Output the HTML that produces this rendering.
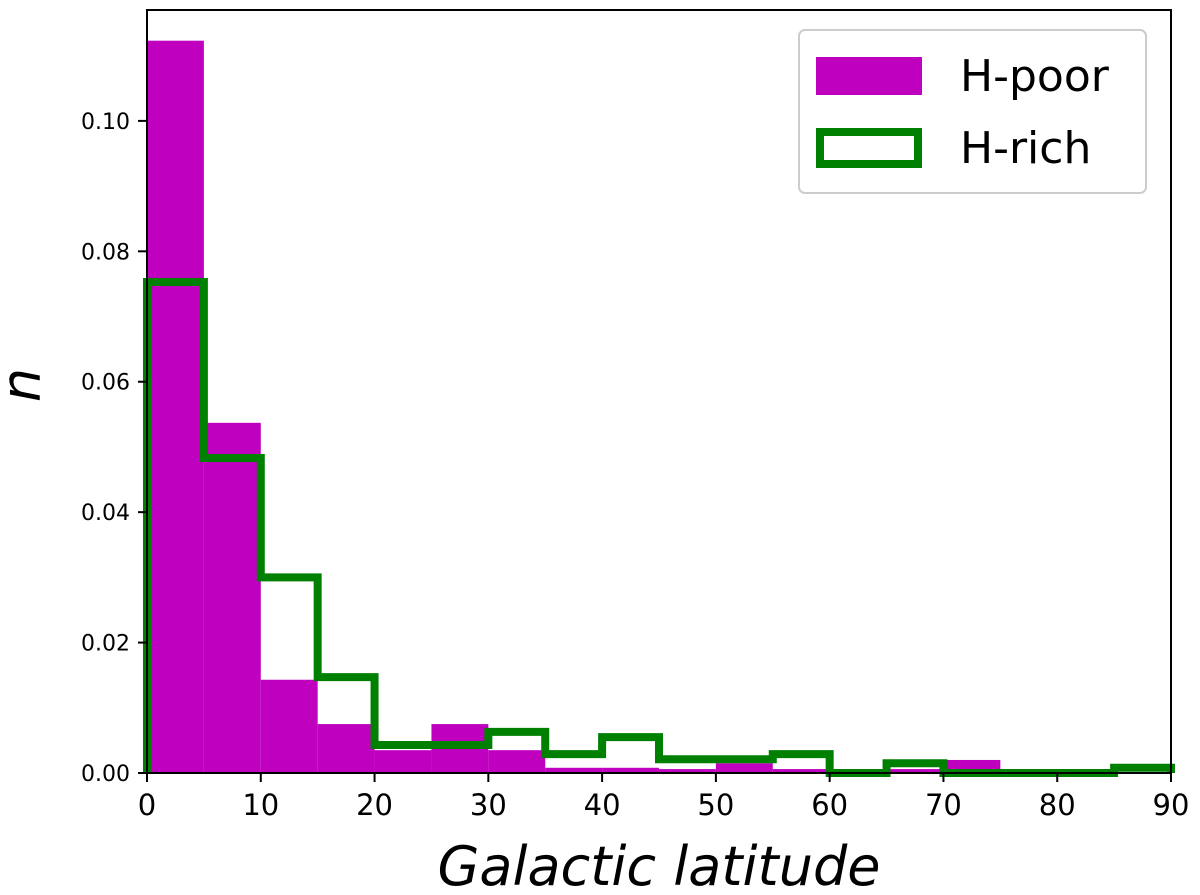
<!DOCTYPE html>
<html><head><meta charset="utf-8"><style>body{margin:0;background:#fff}svg{display:block;font-family:"DejaVu Sans","Liberation Sans",sans-serif}</style></head>
<body>
<svg id="chart" width="1200" height="895">
<g id="bars"></g>
<path id="richline" fill="none" stroke="#008000" stroke-width="8" stroke-linejoin="miter"></path>
<rect x="147" y="10" width="1024" height="763" fill="none" stroke="#000" stroke-width="2"/>
<g id="xticks"></g>
<g id="yticks"></g>
<text x="659" y="885" font-size="54" font-style="italic" text-anchor="middle">Galactic latitude</text>
<text transform="translate(40,385) rotate(-90)" font-size="54" font-style="italic" text-anchor="middle">n</text>
<g>
<rect x="799" y="30" width="347" height="163" rx="6" fill="#fff" stroke="#ccc" stroke-width="2"/>
<rect x="816" y="57" width="106" height="38" fill="#bf00bf"/>
<text x="960" y="91" font-size="44">H-poor</text>
<rect x="820" y="132" width="98" height="32" fill="none" stroke="#008000" stroke-width="8"/>
<text x="960" y="163" font-size="44">H-rich</text>
</g>
</svg>
<script>
const binEdges=[0,5,10,15,20,25,30,35,40,45,50,55,60,65,70,75,80,85,90];
const hPoor=[0.1123,0.0537,0.0143,0.0075,0.0035,0.0075,0.0035,0.0008,0.0008,0.0006,0.0015,0.0006,0,0.0006,0.002,0,0,0];
const hRich=[0.0753,0.0483,0.030,0.0147,0.0043,0.0043,0.0063,0.0029,0.0055,0.0021,0.0021,0.0029,0,0.0015,0,0,0,0.0008];
const xTicks=[0,10,20,30,40,50,60,70,80,90];
const yTicks=[0,0.02,0.04,0.06,0.08,0.10];
const NS="http://www.w3.org/2000/svg";
const X=v=>147+v*(1024/90);
const Y=v=>773-v*6521;
const bars=document.getElementById('bars');
hPoor.forEach((v,i)=>{
 const r=document.createElementNS(NS,'rect');
 
 
 r.setAttribute('x',X(binEdges[i]));r.setAttribute('width',X(binEdges[i+1])-X(binEdges[i]));
 r.setAttribute('y',Y(v));r.setAttribute('height',773-Y(v));r.setAttribute('fill','#bf00bf');
 bars.appendChild(r);
});
let d='M'+X(0)+','+Y(0);
hRich.forEach((v,i)=>{d+=' L'+X(binEdges[i])+','+Y(v)+' L'+X(binEdges[i+1])+','+Y(v);});
d+=' L'+X(90)+','+Y(0);
document.getElementById('richline').setAttribute('d',d);
const xt=document.getElementById('xticks');
xTicks.forEach(t=>{
 const l=document.createElementNS(NS,'line');
 
 
 l.setAttribute('x1',X(t));l.setAttribute('x2',X(t));l.setAttribute('y1',773);l.setAttribute('y2',782);l.setAttribute('stroke','#000');l.setAttribute('stroke-width','2');
 xt.appendChild(l);
 const s=document.createElementNS(NS,'text');
 
 
 s.setAttribute('x',X(t));s.setAttribute('y',815);s.setAttribute('font-size','29');s.setAttribute('text-anchor','middle');
 s.textContent=t;xt.appendChild(s);
});
const yt=document.getElementById('yticks');
yTicks.forEach(t=>{
 const l=document.createElementNS(NS,'line');
 
 
 l.setAttribute('x1',138);l.setAttribute('x2',147);l.setAttribute('y1',Y(t));l.setAttribute('y2',Y(t));l.setAttribute('stroke','#000');l.setAttribute('stroke-width','2');
 yt.appendChild(l);
 const s=document.createElementNS(NS,'text');
 
 
 s.setAttribute('x',130);s.setAttribute('y',Y(t)+8);s.setAttribute('font-size','22');s.setAttribute('text-anchor','end');
 s.textContent=t.toFixed(2);yt.appendChild(s);
});
</script>
</body></html>
